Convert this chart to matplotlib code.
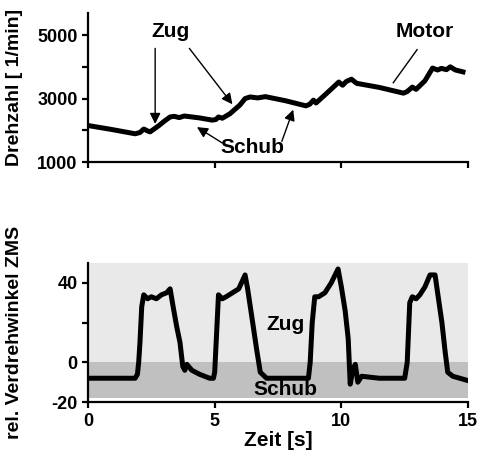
import matplotlib.pyplot as plt
from matplotlib.patches import Rectangle

plt.rcParams['font.family'] = ['Liberation Sans', 'DejaVu Sans']
plt.rcParams['font.weight'] = 'bold'

# Motor speed [1/min] over time [s]
t_rpm = [0.0, 0.9, 1.86, 2.05, 2.2, 2.35, 2.45, 2.8, 3.0, 3.24, 3.4, 3.6, 3.8, 4.4, 4.9,
         5.05, 5.15, 5.3, 5.6, 6.0, 6.2, 6.4, 6.7, 7.0, 7.8, 8.6, 8.75, 8.9, 9.0,
         9.4, 9.9, 10.05, 10.2, 10.4, 10.6, 11.5, 12.45, 12.6, 12.8, 12.95, 13.3,
         13.6, 13.8, 13.95, 14.15, 14.3, 14.5, 14.8]
rpm = [2150, 2030, 1890, 1930, 2040, 1980, 1950, 2150, 2280, 2420, 2440, 2400, 2450, 2390, 2320,
       2340, 2420, 2380, 2520, 2800, 3000, 3050, 3020, 3060, 2930, 2770, 2820, 2950, 2860,
       3150, 3520, 3420, 3540, 3610, 3480, 3350, 3170, 3220, 3360, 3290, 3560,
       3960, 3900, 3950, 3910, 4000, 3900, 3840]

# relative twist angle of dual mass flywheel
t_ang = [0.0, 1.0, 1.86, 1.95, 2.0, 2.05, 2.12, 2.2, 2.35, 2.5, 2.7, 2.9, 3.1, 3.24,
         3.36, 3.5, 3.63, 3.74, 3.82, 3.9, 4.1, 4.4, 4.8, 4.95, 5.0, 5.1, 5.15, 5.3,
         5.45, 5.7, 5.95, 6.2, 6.3, 6.5, 6.65, 6.8, 7.05, 8.0, 8.7, 8.77, 8.85, 8.95,
         9.1, 9.35, 9.6, 9.87, 10.0, 10.15, 10.27, 10.35, 10.45, 10.55, 10.65, 10.8,
         11.5, 12.5, 12.6, 12.7, 12.8, 12.95, 13.1, 13.3, 13.5, 13.7, 13.8, 13.97,
         14.1, 14.2, 14.4, 14.95]
ang = [-8, -8, -8, -6, 0, 10, 28, 34, 32, 33, 32, 34, 35, 37,
       28, 18, 10, -2, -4, -1, -4, -6, -8, -8, -5, 21, 34, 32,
       33, 35, 37, 44, 37, 20, 7, -5, -8, -8, -8, 0, 20, 33,
       33, 35, 40, 47, 38, 26, 12, -11, -4, -1, -10, -7,
       -8, -8, 0, 30, 33, 32, 34, 38, 44, 44, 35, 20,
       5, -5, -7, -9]

zug_range = (0, 50)
schub_range = (-18, 0)

fig = plt.figure(figsize=(4.81, 4.59), dpi=100)
ax1 = fig.add_axes([0.183, 0.647, 0.79, 0.325])
ax2 = fig.add_axes([0.183, 0.124, 0.79, 0.303])

for ax in (ax1, ax2):
    for s in ('top', 'right'):
        ax.spines[s].set_visible(False)
    for s in ('left', 'bottom'):
        ax.spines[s].set_linewidth(1.6)
    ax.tick_params(direction='out', length=4, width=1.6, labelsize=13)
    ax.set_xlim(0, 15)
    ax.set_xticks([0, 5, 10, 15])

# top panel
ax1.plot(t_rpm, rpm, color='black', lw=3.6, solid_joinstyle='round')
ax1.set_ylim(1000, 5700)
ax1.set_yticks([1000, 2000, 3000, 4000, 5000])
ax1.set_yticklabels(['1000', '', '3000', '', '5000'])
ax1.set_xticklabels([])
ax1.set_ylabel('Drehzahl [ 1/min]', fontsize=14, fontweight='bold')
ax1.yaxis.set_label_coords(-0.172, 0.5)

arr = dict(arrowstyle='-|>', color='black', lw=1.0, mutation_scale=16, shrinkA=0, shrinkB=0)
ax1.text(3.25, 5100, 'Zug', ha='center', va='center', fontsize=15)
ax1.annotate('', xy=(2.65, 2200), xytext=(2.65, 4580), arrowprops=arr)
ax1.annotate('', xy=(5.7, 2820), xytext=(4.0, 4580), arrowprops=arr)
ax1.text(6.5, 1450, 'Schub', ha='center', va='center', fontsize=15)
ax1.annotate('', xy=(4.3, 2100), xytext=(5.3, 1600), arrowprops=arr)
ax1.annotate('', xy=(8.1, 2650), xytext=(7.65, 1650), arrowprops=arr)
ax1.text(13.3, 5100, 'Motor', ha='center', va='center', fontsize=15)
ax1.plot([12.99, 12.05], [4540, 3500], color='black', lw=1.0)

# bottom panel
ax2.add_patch(Rectangle((0, zug_range[0]), 15, zug_range[1] - zug_range[0],
                        facecolor='#e9e9e9', edgecolor='none', zorder=0))
ax2.add_patch(Rectangle((0, schub_range[0]), 15, schub_range[1] - schub_range[0],
                        facecolor='#c0c0c0', edgecolor='none', zorder=0))
ax2.plot(t_ang, ang, color='black', lw=3.6, solid_joinstyle='round')
ax2.set_ylim(-20, 50)
ax2.set_yticks([-20, 0, 20, 40])
ax2.set_yticklabels(['-20', '0', '', '40'])
ax2.set_ylabel('rel. Verdrehwinkel ZMS', fontsize=14, fontweight='bold')
ax2.yaxis.set_label_coords(-0.172, 0.5)
ax2.set_xlabel('Zeit [s]', fontsize=15, fontweight='bold')
ax2.xaxis.set_label_coords(0.5, -0.21)
ax2.text(7.8, 19, 'Zug', ha='center', va='center', fontsize=15)
ax2.text(7.8, -13.5, 'Schub', ha='center', va='center', fontsize=15)

fig.savefig('out.png', dpi=100)
